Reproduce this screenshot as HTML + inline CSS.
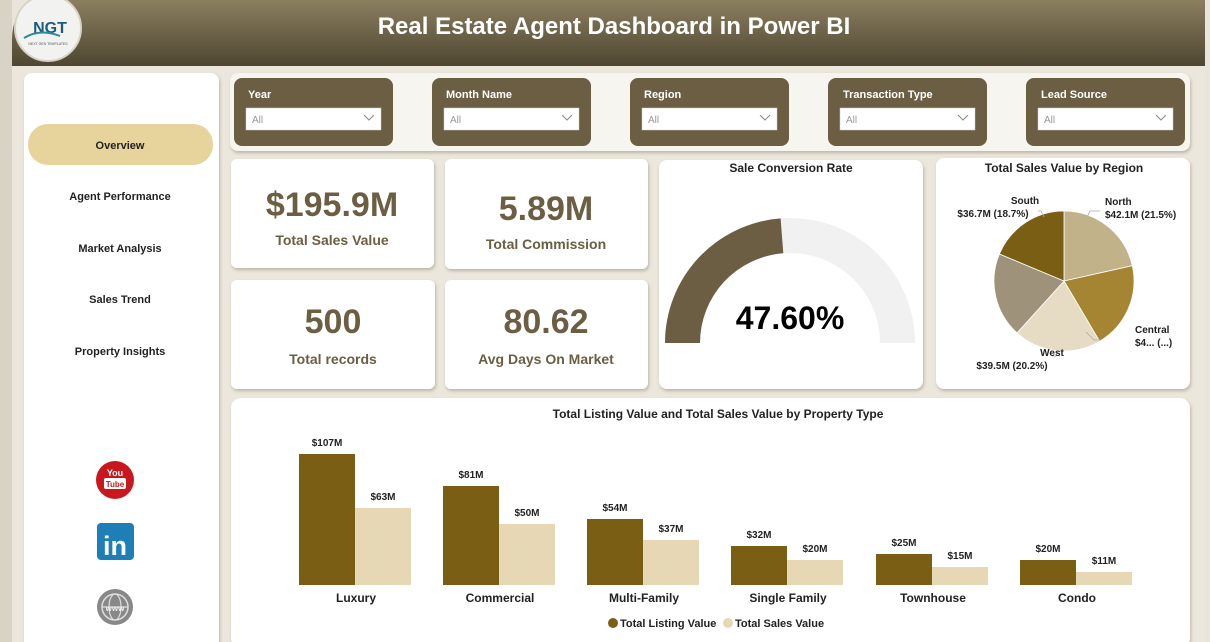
<!DOCTYPE html>
<html><head><meta charset="utf-8"><style>
html,body{margin:0;padding:0;background:#e9e5da;}
svg{display:block;font-family:"Liberation Sans",sans-serif;}
</style></head><body>
<svg width="1210" height="642" viewBox="0 0 1210 642" xmlns="http://www.w3.org/2000/svg">
<defs>
<linearGradient id="hg" x1="0" y1="0" x2="0" y2="1"><stop offset="0" stop-color="#8b7f60"/><stop offset="1" stop-color="#4e4631"/></linearGradient>
<filter id="sh" x="-5%" y="-5%" width="110%" height="115%"><feDropShadow dx="1" dy="2" stdDeviation="1.5" flood-color="#8a8270" flood-opacity="0.5"/></filter>
</defs>
<rect width="1210" height="642" fill="#e9e5da"/>
<rect x="0" y="0" width="12" height="642" fill="#d8d3c4"/>
<path d="M12,40 Q12,0 52,0 L1205,0 L1205,66 L12,66 Z" fill="url(#hg)"/>
<rect x="12" y="66" width="1193" height="576" fill="#ebe7dc"/>
<text x="614" y="34" text-anchor="middle" font-size="24" font-weight="bold" fill="#fff">Real Estate Agent Dashboard in Power BI</text>
<circle cx="48" cy="28" r="33" fill="#f2f2f0" stroke="#d8d3c4" stroke-width="2"/>
<text x="50" y="33" text-anchor="middle" font-size="16" font-weight="bold" fill="#1d5d7a">NGT</text>
<path d="M24,38 Q40,28 60,36" stroke="#2a8a9a" stroke-width="2" fill="none"/>
<text x="48" y="45" text-anchor="middle" font-size="3.5" fill="#555">NEXT GEN TEMPLATES</text>

<rect x="24" y="73" width="195" height="580" rx="8" fill="#fff" filter="url(#sh)"/>
<rect x="28" y="124" width="185" height="41" rx="20" fill="#e6d49c"/>
<g font-size="11" font-weight="bold" fill="#222" text-anchor="middle">
<text x="120" y="149">Overview</text>
<text x="120" y="200">Agent Performance</text>
<text x="120" y="252">Market Analysis</text>
<text x="120" y="303">Sales Trend</text>
<text x="120" y="355">Property Insights</text>
</g>
<circle cx="115" cy="480" r="19" fill="#c8181e"/>
<text x="115" y="476" text-anchor="middle" font-size="9" font-weight="bold" fill="#fff">You</text>
<rect x="104" y="478" width="22" height="11" rx="2" fill="#fff"/>
<text x="115" y="487" text-anchor="middle" font-size="8" font-weight="bold" fill="#c8181e">Tube</text>
<rect x="97" y="523" width="37" height="37" rx="4" fill="#1d7fb5"/>
<text x="115" y="555" text-anchor="middle" font-size="27" font-weight="bold" fill="#fff">in</text>
<circle cx="115" cy="607" r="18" fill="#888"/>
<circle cx="115" cy="607" r="13" fill="none" stroke="#ddd" stroke-width="1.5"/>
<ellipse cx="115" cy="607" rx="6" ry="13" fill="none" stroke="#ddd" stroke-width="1.2"/>
<line x1="102" y1="607" x2="128" y2="607" stroke="#ddd" stroke-width="1.2"/>
<text x="115" y="611" text-anchor="middle" font-size="8" font-weight="bold" fill="#eee">www</text>

<rect x="230" y="73" width="960" height="78" rx="8" fill="#f7f5ef" filter="url(#sh)"/>
<g font-size="11" font-weight="bold" fill="#fff">
<rect x="234" y="78" width="159" height="68" rx="8" fill="#6b5e42"/>
<rect x="432" y="78" width="159" height="68" rx="8" fill="#6b5e42"/>
<rect x="630" y="78" width="159" height="68" rx="8" fill="#6b5e42"/>
<rect x="828" y="78" width="159" height="68" rx="8" fill="#6b5e42"/>
<rect x="1026" y="78" width="159" height="68" rx="8" fill="#6b5e42"/>
<text x="248" y="98">Year</text><text x="446" y="98">Month Name</text><text x="644" y="98">Region</text><text x="843" y="98">Transaction Type</text><text x="1041" y="98">Lead Source</text>
</g>
<g fill="#fff" stroke="#ccc" stroke-width="0.5">
<rect x="246" y="108" width="135" height="22"/><rect x="444" y="108" width="135" height="22"/><rect x="642" y="108" width="135" height="22"/><rect x="840" y="108" width="135" height="22"/><rect x="1038" y="108" width="135" height="22"/>
</g>
<g font-size="10" fill="#999"><text x="252" y="123">All</text><text x="450" y="123">All</text><text x="648" y="123">All</text><text x="846" y="123">All</text><text x="1044" y="123">All</text></g>
<g stroke="#888" fill="none" stroke-width="1">
<path d="M364,115 l5,5 l5,-5"/><path d="M562,115 l5,5 l5,-5"/><path d="M760,115 l5,5 l5,-5"/><path d="M958,115 l5,5 l5,-5"/><path d="M1156,115 l5,5 l5,-5"/>
</g>

<g fill="#fff" filter="url(#sh)">
<rect x="231" y="159" width="203" height="109" rx="6"/>
<rect x="445" y="159" width="203" height="110" rx="6"/>
<rect x="231" y="280" width="204" height="109" rx="6"/>
<rect x="445" y="280" width="203" height="109" rx="6"/>
<rect x="659" y="160" width="264" height="229" rx="8"/>
<rect x="936" y="158" width="254" height="231" rx="8"/>
<rect x="231" y="398" width="959" height="250" rx="10"/>
</g>
<g fill="#6b5e42" font-weight="bold" text-anchor="middle">
<text x="332" y="216" font-size="34">$195.9M</text>
<text x="546" y="220" font-size="34">5.89M</text>
<text x="333" y="333" font-size="34">500</text>
<text x="546" y="333" font-size="34">80.62</text>
<text x="332" y="245" font-size="14">Total Sales Value</text>
<text x="546" y="249" font-size="14">Total Commission</text>
<text x="333" y="364" font-size="14">Total records</text>
<text x="546" y="364" font-size="14">Avg Days On Market</text>
</g>

<text x="791" y="172" text-anchor="middle" font-size="12" font-weight="bold" fill="#222">Sale Conversion Rate</text>
<path d="M665,343 A125,125 0 0 1 915,343 L880,343 A90,90 0 0 0 700,343 Z" fill="#f1f1f1"/>
<path d="M665,343 A125,125 0 0 1 780.6,218.4 L783.3,253.3 A90,90 0 0 0 700,343 Z" fill="#6b5e42"/>
<text x="790" y="329" text-anchor="middle" font-size="32" font-weight="bold" fill="#000">47.60%</text>

<text x="1064" y="172" text-anchor="middle" font-size="12" font-weight="bold" fill="#222">Total Sales Value by Region</text>
<g stroke="#fff" stroke-width="0.8">
<path d="M1064,281 L1064,211 A70,70 0 0 1 1132.3,265.7 Z" fill="#c2b28a"/>
<path d="M1064,281 L1132.3,265.7 A70,70 0 0 1 1099.6,341.3 Z" fill="#a68532"/>
<path d="M1064,281 L1099.6,341.3 A70,70 0 0 1 1017,332.9 Z" fill="#e6dcc4"/>
<path d="M1064,281 L1017,332.9 A70,70 0 0 1 999.4,254 Z" fill="#9e927b"/>
<path d="M1064,281 L999.4,254 A70,70 0 0 1 1064,211 Z" fill="#7a5e14"/>
</g>
<g stroke="#aaa" fill="none" stroke-width="0.8">
<path d="M1038,211 l3,0 l3,6"/><path d="M1087,217 l3,-6 l10,0"/><path d="M1086,332 l8,8 l6,0"/><path d="M1052,356 l4,0 l2,-5"/>
</g>
<g font-size="10" fill="#222" font-weight="bold">
<text x="1025" y="204" text-anchor="middle">South</text>
<text x="993" y="217" text-anchor="middle">$36.7M (18.7%)</text>
<text x="1105" y="205">North</text>
<text x="1105" y="218">$42.1M (21.5%)</text>
<text x="1135" y="333">Central</text>
<text x="1135" y="346">$4... (...)</text>
<text x="1052" y="356" text-anchor="middle">West</text>
<text x="1012" y="369" text-anchor="middle">$39.5M (20.2%)</text>
</g>

<text x="718" y="418" text-anchor="middle" font-size="12" font-weight="bold" fill="#222">Total Listing Value and Total Sales Value by Property Type</text>
<g fill="#7a5e14">
<rect x="299" y="454" width="56" height="131"/>
<rect x="443" y="486" width="56" height="99"/>
<rect x="587" y="519" width="56" height="66"/>
<rect x="731" y="546" width="56" height="39"/>
<rect x="876" y="554" width="56" height="31"/>
<rect x="1020" y="560" width="56" height="25"/>
</g>
<g fill="#e6d8b4">
<rect x="355" y="508" width="56" height="77"/>
<rect x="499" y="524" width="56" height="61"/>
<rect x="643" y="540" width="56" height="45"/>
<rect x="787" y="560" width="56" height="25"/>
<rect x="932" y="567" width="56" height="18"/>
<rect x="1076" y="572" width="56" height="13"/>
</g>
<g font-size="10" fill="#222" text-anchor="middle" font-weight="bold">
<text x="327" y="446">$107M</text><text x="383" y="500">$63M</text>
<text x="471" y="478">$81M</text><text x="527" y="516">$50M</text>
<text x="615" y="511">$54M</text><text x="671" y="532">$37M</text>
<text x="759" y="538">$32M</text><text x="815" y="552">$20M</text>
<text x="904" y="546">$25M</text><text x="960" y="559">$15M</text>
<text x="1048" y="552">$20M</text><text x="1104" y="564">$11M</text>
</g>
<g font-size="12" fill="#222" text-anchor="middle" font-weight="bold">
<text x="356" y="602">Luxury</text><text x="500" y="602">Commercial</text><text x="644" y="602">Multi-Family</text><text x="788" y="602">Single Family</text><text x="933" y="602">Townhouse</text><text x="1077" y="602">Condo</text>
</g>
<circle cx="613" cy="623" r="5" fill="#7a5e14"/>
<text x="620" y="627" font-size="11" fill="#222" font-weight="bold">Total Listing Value</text>
<circle cx="728" cy="623" r="5" fill="#e6d8b4"/>
<text x="735" y="627" font-size="11" fill="#222" font-weight="bold">Total Sales Value</text>
</svg>
</body></html>
